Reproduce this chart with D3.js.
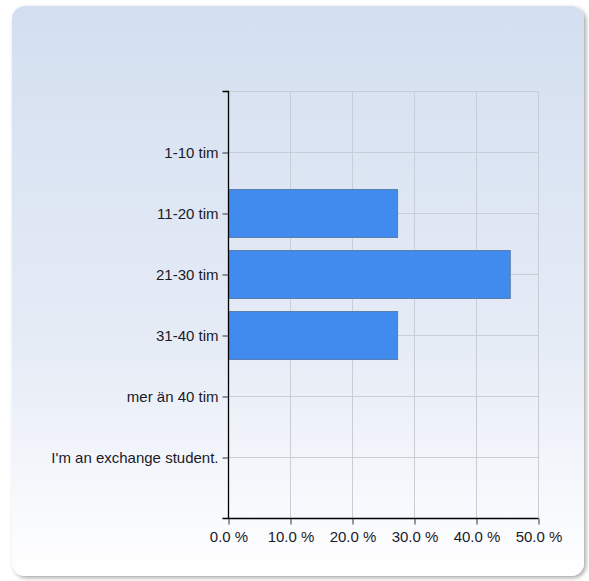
<!DOCTYPE html>
<html><head><meta charset="utf-8">
<script src="https://cdn.jsdelivr.net/npm/d3@7"></script>
<style>html,body{margin:0;padding:0;background:#fff;}svg{display:block;}</style>
</head><body>
<script>
const categories = ["1-10 tim","11-20 tim","21-30 tim","31-40 tim","mer än 40 tim","I'm an exchange student."];
const values = [0, 27.27, 45.45, 27.27, 0, 0];
const xTicks = [0, 10, 20, 30, 40, 50];

const W = 589, H = 581;
const svg = d3.select("body").append("svg").attr("width", W).attr("height", H);
const defs = svg.append("defs");
const g1 = defs.append("linearGradient").attr("id","bg").attr("x1",0).attr("y1",0).attr("x2",0).attr("y2",1);
g1.append("stop").attr("offset","0%").attr("stop-color","#d3dff0");
g1.append("stop").attr("offset","60%").attr("stop-color","#e6ecf6");
g1.append("stop").attr("offset","100%").attr("stop-color","#ffffff");
const f = defs.append("filter").attr("id","sh").attr("x","-5%").attr("y","-5%").attr("width","110%").attr("height","110%");
f.append("feGaussianBlur").attr("in","SourceAlpha").attr("stdDeviation",2);
f.append("feOffset").attr("dx",2).attr("dy",2).attr("result","b");
f.append("feComponentTransfer").append("feFuncA").attr("type","linear").attr("slope",0.35);
const fm = f.append("feMerge"); fm.append("feMergeNode"); fm.append("feMergeNode").attr("in","SourceGraphic");

svg.append("rect").attr("x",12).attr("y",6).attr("width",572).attr("height",570)
  .attr("rx",13).attr("ry",13).attr("fill","url(#bg)").attr("filter","url(#sh)");

const pL = 228.5, pR = 538.5, pT = 91.5, pB = 518.5;
const x = d3.scaleLinear().domain([0,50]).range([pL,pR]);
const y = d3.scalePoint().domain(categories).range([pT,pB]).padding(1);
const bh = 48;

const grid = svg.append("g").attr("stroke","#c9cdd6").attr("stroke-width",1);
xTicks.forEach(t => grid.append("line").attr("x1",x(t)).attr("x2",x(t)).attr("y1",pT).attr("y2",pB));
grid.append("line").attr("x1",pL).attr("x2",pR).attr("y1",pT).attr("y2",pT);
categories.forEach(c => grid.append("line").attr("x1",pL).attr("x2",pR).attr("y1",y(c)).attr("y2",y(c)));

svg.append("g").selectAll("rect").data(categories.map((c,i)=>({c,v:values[i]})).filter(d=>d.v>0))
  .join("rect")
  .attr("x", x(0)).attr("y", d => y(d.c) - bh/2)
  .attr("width", d => x(d.v) - x(0)).attr("height", bh)
  .attr("fill","#428bee").attr("stroke","#5b7fae").attr("stroke-width",1);

const font = "'Liberation Sans', Arial, sans-serif";
const yAxis = svg.append("g").attr("transform",`translate(${pL},0)`)
  .call(d3.axisLeft(y).tickSize(6).tickPadding(4));
yAxis.select(".domain").attr("d", `M-6,${pT}H0V${pB}`).attr("stroke","#000").attr("stroke-width",1.3);
yAxis.selectAll(".tick line").attr("stroke","#333");
yAxis.selectAll("text").attr("font-family",font).attr("font-size",15).attr("fill","#1a1a2a");

const xAxis = svg.append("g").attr("transform",`translate(0,${pB})`)
  .call(d3.axisBottom(x).tickValues(xTicks).tickSize(6).tickPadding(7).tickFormat(d => d3.format(".1f")(d) + " %"));
xAxis.select(".domain").attr("d", `M${pL-6},0H${pR}`).attr("stroke","#000").attr("stroke-width",1.3);
xAxis.selectAll(".tick line").attr("stroke","#333");
xAxis.selectAll("text").attr("font-family",font).attr("font-size",15).attr("fill","#1a1a2a");
</script>
</body></html>
